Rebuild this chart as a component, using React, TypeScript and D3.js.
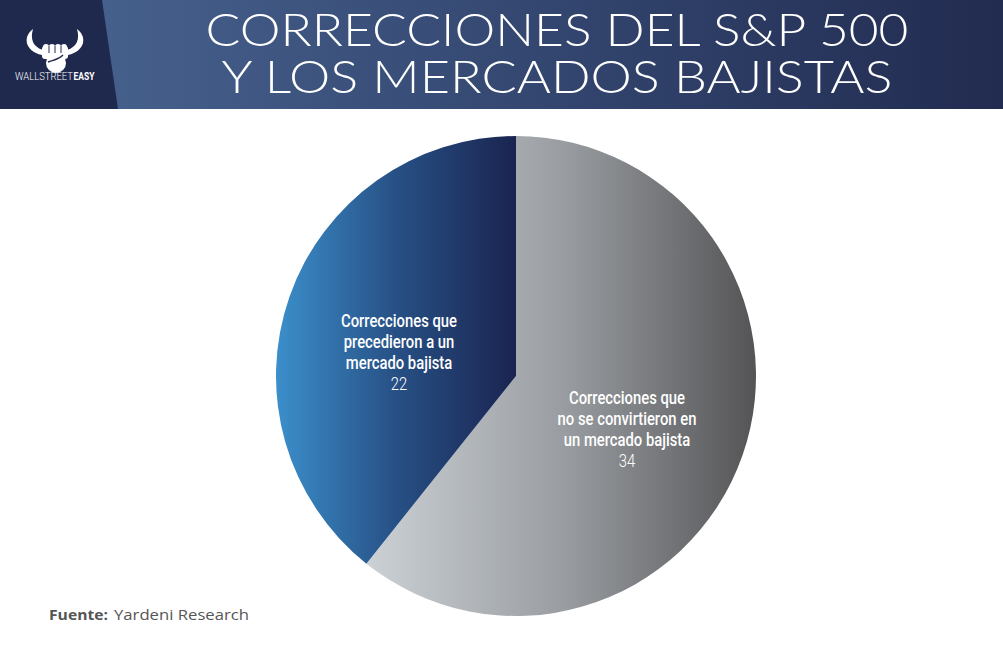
import { useEffect, useRef } from 'react';
import * as d3 from 'd3';

// data
const categories = [
  ['Correcciones que', 'no se convirtieron en', 'un mercado bajista'],
  ['Correcciones que', 'precedieron a un', 'mercado bajista'],
];
const values = [34, 22];
const gradientStops = [
  ['#ccd1d6', '#9a9ea2', '#545456'],
  ['#3b8fcb', '#275085', '#1a2450'],
];
const titleLines = ['CORRECCIONES DEL S&P 500', 'Y LOS MERCADOS BAJISTAS'];
const sourceLabel = 'Fuente:';
const sourceText = 'Yardeni Research';

const W = 1003;
const H = 651;

export default function App() {
  const svgRef = useRef<SVGSVGElement>(null);

  useEffect(() => {
    if (!svgRef.current) return;
    const svg = d3.select(svgRef.current);
    svg.selectAll('*').remove();

    const defs = svg.append('defs');

    // header
    const hg = defs.append('linearGradient').attr('id', 'head-grad');
    hg.append('stop').attr('offset', '0%').attr('stop-color', '#4a6693');
    hg.append('stop').attr('offset', '55%').attr('stop-color', '#33466f');
    hg.append('stop').attr('offset', '100%').attr('stop-color', '#222b50');

    svg.append('rect').attr('width', W).attr('height', H).attr('fill', '#fff');
    svg.append('rect').attr('width', W).attr('height', 109).attr('fill', 'url(#head-grad)');
    svg.append('path').attr('d', 'M0,0 L102,0 L118,109 L0,109 Z').attr('fill', '#1f284d');

    // logo
    const logo = svg.append('g').attr('fill', '#fff');
    logo.append('path').attr('d', 'M33,29 C23,36 24,51 42,55 L43,50 C33,47 30,39 33,29 Z');
    logo.append('path').attr('d', 'M77,29 C87,36 86,51 68,55 L67,50 C77,47 80,39 77,29 Z');
    logo.append('rect').attr('x', 42).attr('y', 46).attr('width', 26).attr('height', 13).attr('rx', 3);
    [46, 52, 58, 64].forEach(kx => {
      logo.append('circle').attr('cx', kx).attr('cy', 47).attr('r', 3);
    });
    logo.append('circle').attr('cx', 56).attr('cy', 63).attr('r', 10);
    logo.append('path').attr('d', 'M48,62 C53,60 58,60 63,55')
      .attr('stroke', '#1f284d').attr('stroke-width', 1.5).attr('fill', 'none');
    [49, 55, 61].forEach(kx => {
      logo.append('line').attr('x1', kx).attr('y1', 46).attr('x2', kx).attr('y2', 53)
        .attr('stroke', '#1f284d').attr('stroke-width', 1);
    });
    logo.append('text').attr('x', 15).attr('y', 80)
      .attr('font-family', 'Roboto, sans-serif').attr('font-size', 11).attr('font-weight', 300)
      .attr('textLength', 58).attr('lengthAdjust', 'spacingAndGlyphs')
      .text('WALLSTREET');
    logo.append('text').attr('x', 73.5).attr('y', 80)
      .attr('font-family', 'Roboto, sans-serif').attr('font-size', 11).attr('font-weight', 700)
      .attr('textLength', 21).attr('lengthAdjust', 'spacingAndGlyphs')
      .text('EASY');

    // title
    const titleWidths = [703, 671];
    titleLines.forEach((line, i) => {
      svg.append('text')
        .attr('x', 557)
        .attr('y', 46 + i * 47)
        .attr('text-anchor', 'middle')
        .attr('fill', '#fff')
        .attr('font-family', 'Lato, "Open Sans", sans-serif')
        .attr('font-weight', 300)
        .attr('font-size', 45)
        .attr('textLength', titleWidths[i])
        .attr('lengthAdjust', 'spacingAndGlyphs')
        .text(line);
    });

    // pie
    const cx = 516;
    const cy = 376;
    const radius = 240;

    gradientStops.forEach((stops, i) => {
      const g = defs.append('linearGradient').attr('id', `slice-grad-${i}`);
      stops.forEach((c, j) => {
        g.append('stop').attr('offset', `${(j / (stops.length - 1)) * 100}%`).attr('stop-color', c);
      });
    });

    const pie = d3.pie<number>().sort(null).value(d => d);
    const arcs = pie(values);
    const arc = d3.arc<d3.PieArcDatum<number>>().innerRadius(0).outerRadius(radius);

    const g = svg.append('g').attr('transform', `translate(${cx},${cy})`);

    g.selectAll('path.slice')
      .data(arcs)
      .enter()
      .append('path')
      .attr('class', 'slice')
      .attr('d', arc)
      .attr('fill', (_, i) => `url(#slice-grad-${i})`);

    const labelR = radius * 0.49;
    const labelArc = d3.arc<d3.PieArcDatum<number>>().innerRadius(labelR).outerRadius(labelR);

    arcs.forEach((a, i) => {
      const [lx, ly] = labelArc.centroid(a);
      const lines = [...categories[i], String(values[i])];
      const t = g.append('g')
        .attr('transform', `translate(${lx - (i === 1 ? 6 : 0)},${ly + 15}) scale(0.78,1)`)
        .append('text')
        .attr('text-anchor', 'middle')
        .attr('fill', '#fff')
        .attr('font-family', 'Roboto, sans-serif')
        .attr('font-size', 19);
      lines.forEach((ln, j) => {
        t.append('tspan')
          .attr('x', 0)
          .attr('y', (j - 1.5) * 21 + 6)
          .attr('font-weight', j === 3 ? 300 : 500)
          .text(ln);
      });
    });

    // source
    svg.append('text').attr('x', 49).attr('y', 620)
      .attr('font-family', '"Open Sans", sans-serif')
      .attr('font-size', 15)
      .attr('font-weight', 700)
      .attr('fill', '#555')
      .attr('textLength', 59).attr('lengthAdjust', 'spacingAndGlyphs')
      .text(sourceLabel);
    svg.append('text').attr('x', 114).attr('y', 620)
      .attr('font-family', '"Open Sans", sans-serif')
      .attr('font-size', 15)
      .attr('fill', '#555')
      .attr('textLength', 135).attr('lengthAdjust', 'spacingAndGlyphs')
      .text(sourceText);
  }, []);

  return (
    <div style={{ position: 'absolute', left: 0, top: 0 }}>
      <svg ref={svgRef} width={W} height={H} viewBox={`0 0 ${W} ${H}`} />
    </div>
  );
}
